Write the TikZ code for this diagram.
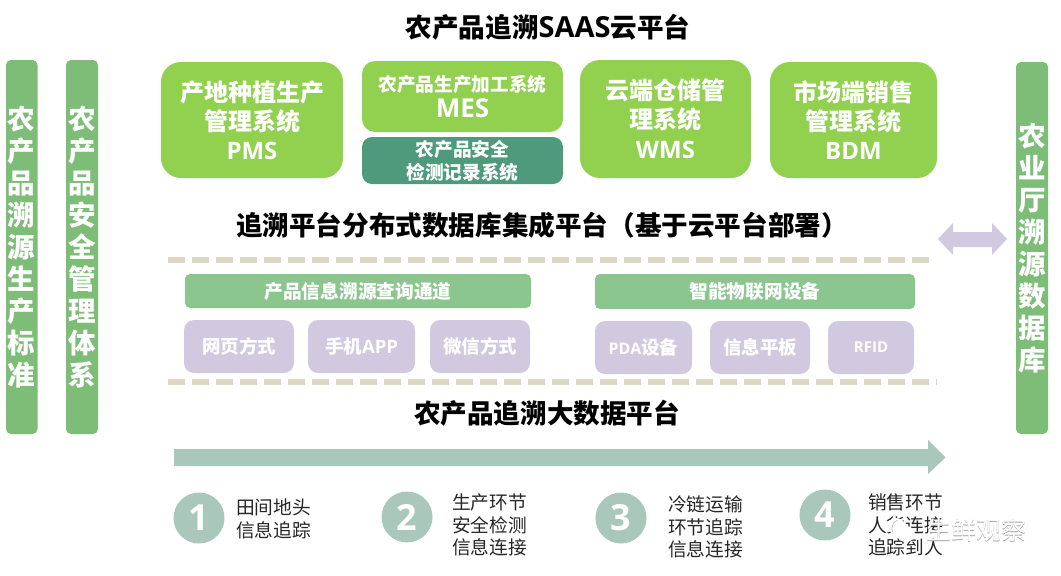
\documentclass[tikz,border=0pt]{standalone}
\usepackage{fontspec}
\setmainfont{Noto Sans CJK SC}
\newfontfamily\lat{Open Sans}
\definecolor{barG}{HTML}{7DBD78}
\definecolor{limeG}{HTML}{92D050}
\definecolor{tealG}{HTML}{4F9A7C}
\definecolor{headG}{HTML}{8BC68F}
\definecolor{lilac}{HTML}{D0C9E0}
\definecolor{sand}{HTML}{DDD8C4}
\definecolor{sage}{HTML}{A9C7BA}
\newcommand\fs[2]{\fontsize{#1}{#2}\selectfont}
\newcommand\bx[7]{\pgfmathsetmacro\cx{(#3+#5)/2}\pgfmathsetmacro\cy{(#4+#6)/2}\pgfmathsetmacro\ww{#5-#3}\pgfmathsetmacro\hh{#6-#4}\node[#2,minimum width=\ww pt,minimum height=\hh pt] (#1) at (\cx,\cy) {#7};}
\tikzset{
  x=1pt,y=-1pt,
  boxbase/.style={inner sep=0pt,text=white,font=\bfseries,align=center},
  sidebar/.style={boxbase,fill=barG,rounded corners=5pt,font=\bfseries\fs{27.5}{32}},
  bigsys/.style={boxbase,fill=limeG,rounded corners=20pt,font=\bfseries\fs{24}{29}},
  midsys/.style={boxbase,fill=limeG,rounded corners=13pt,font=\bfseries\fs{18.7}{25}},
  safesys/.style={boxbase,fill=tealG,rounded corners=10pt,font=\bfseries\fs{18.7}{23}},
  header/.style={boxbase,fill=headG,rounded corners=5pt,font=\bfseries\fs{18.7}{22}},
  leaf/.style={boxbase,fill=lilac,rounded corners=10pt,font=\bfseries\fs{18.5}{22}},
  title/.style={inner sep=0pt,text=black,font=\bfseries\fs{26.6}{30}},
  divider/.style={draw=sand,line width=6pt,dash pattern=on 17pt off 7pt},
  numdot/.style={circle,fill=sage,inner sep=0pt,minimum size=51pt,text=white,font=\lat\bfseries\fs{36}{38}},
  steptext/.style={inner sep=0pt,align=left,text=black!85,font=\fs{18.7}{22.5},anchor=west},
}
\begin{document}
\begin{tikzpicture}
\useasboundingbox (0,0) rectangle (1061,576);
\fill[white] (0,0) rectangle (1061,576);
% side bars
\bx{barA}{sidebar}{6}{60}{37.5}{434}{农\\产\\品\\溯\\源\\生\\产\\标\\准}
\bx{barB}{sidebar}{66}{60}{98}{434}{农\\产\\品\\安\\全\\管\\理\\体\\系}
\bx{barC}{sidebar}{1016}{62}{1048}{434}{农\\业\\厅\\溯\\源\\数\\据\\库}
% titles
\node[title] (t1) at (548,27) {农产品追溯{\lat\fs{29}{30}SAAS}云平台};
\node[title] (t2) at (542,225) {追溯平台分布式数据库集成平台（基于云平台部署）};
\node[title] (t3) at (547,413) {农产品追溯大数据平台};
% systems
\bx{pms}{bigsys}{161}{62}{343}{178}{产地种植生产\\管理系统\\{\lat PMS}}
\bx{mes}{midsys}{362}{61}{563}{132}{农产品生产加工系统\\[1pt]{\lat\fs{26}{25}MES}}
\bx{safe}{safesys}{362}{137}{563}{184}{农产品安全\\检测记录系统}
\bx{wms}{bigsys}{580}{60}{751}{178}{云端仓储管\\理系统\\[1pt]{\lat WMS}}
\bx{bdm}{bigsys}{770}{62}{937}{178}{市场端销售\\管理系统\\{\lat BDM}}
% dividers
\coordinate (d1a) at (168,260); \coordinate (d1b) at (931,260);
\coordinate (d2a) at (168,382); \coordinate (d2b) at (937,382);
\draw[divider] (d1a) -- (d1b);
\draw[divider] (d2a) -- (d2b);
% channels
\bx{h1}{header}{185}{274}{531}{308}{产品信息溯源查询通道}
\bx{h2}{header}{595}{274}{915}{309}{智能物联网设备}
\bx{l1}{leaf}{184}{320}{294}{373}{网页方式}
\bx{l2}{leaf}{308}{320}{415}{373}{手机{\lat APP}}
\bx{l3}{leaf}{430}{320}{530}{373}{微信方式}
\bx{r1}{leaf}{595}{321}{692}{374}{{\lat\fs{16}{22}PDA}设备}
\bx{r2}{leaf}{710}{321}{810}{374}{信息平板}
\bx{r3}{leaf}{828}{321}{914}{374}{{\lat\fs{15}{22}RFID}}
% arrows
\fill[lilac] (938,239) -- (953,223) -- (953,232) -- (992,232) -- (992,223) -- (1007,239) -- (992,255) -- (992,247) -- (953,247) -- (953,255) -- cycle;
\fill[sage] (174,449) -- (928,449) -- (928,440) -- (945.5,457.5) -- (928,474) -- (928,466) -- (174,466) -- cycle;
% steps
\node[numdot] (n1) at (199,518) {1};
\node[numdot] (n2) at (407,517) {2};
\node[numdot] (n3) at (621,518) {3};
\node[numdot] (n4) at (825,515) {4};
\node[steptext] (s1) at (236,519) {田间地头\\信息追踪};
\node[steptext] (s2) at (452,525) {生产环节\\安全检测\\信息连接};
\node[steptext] (s3) at (668,527) {冷链运输\\环节追踪\\信息连接};
\node[steptext] (s4) at (868,525) {销售环节\\人货连接\\追踪到人};
% watermark
\fill[white] (896,526) ellipse (9 and 8);
\fill[white] (906,534) ellipse (9 and 8);
\draw[black!30,line width=.5pt] (893,533) arc (150:250:9);
\node[inner sep=0pt,text=black!35,font=\fs{25}{28}] (wm0) at (976.6,530.6) {生鲜观察};
\node[inner sep=0pt,text=white,font=\fs{25}{28}] (wm) at (976,530) {生鲜观察};
\end{tikzpicture}
\end{document}
